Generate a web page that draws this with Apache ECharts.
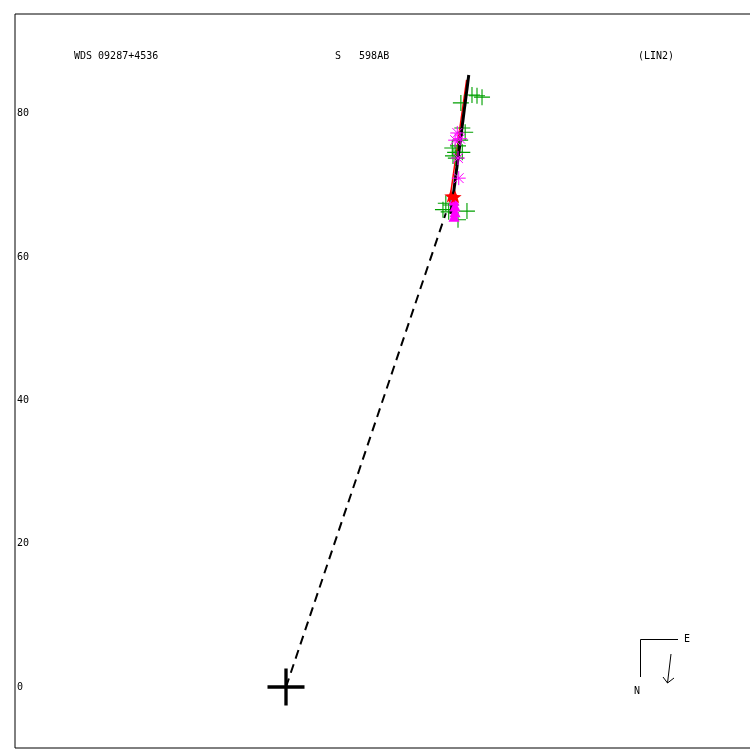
<!DOCTYPE html>
<html>
<head>
<meta charset="utf-8">
<script src="https://cdn.jsdelivr.net/npm/echarts@6/dist/echarts.min.js"></script>
<style>html,body{margin:0;padding:0;background:#fff}#c{width:750px;height:750px}</style>
</head>
<body>
<div id="c"></div>
<script>
// ---- data (plot units, origin = primary) ----
const yTickLabels = [0, 20, 40, 60, 80];
const primary = [[0, 0]];
const dashedLine = [[0, 0], [22.3, 66.1]];
const fitLineBlack = [[23.0, 66.0], [25.5, 85.4]];
const fitLineRed = [[22.8, 67.6], [25.2, 84.7]];
const greenPlus = [
  [25.95, 82.6], [26.65, 82.5], [27.35, 82.3], [24.4, 81.5],
  [24.6, 78.0], [25.0, 77.4], [24.3, 76.3], [23.2, 75.2], [24.0, 75.5],
  [23.6, 74.6], [24.6, 74.6], [23.7, 73.8], [23.3, 74.1],
  [22.3, 67.5], [21.9, 66.6], [23.0, 67.25], [25.25, 66.4], [24.0, 65.2], [22.7, 66.3]
];
const pinkAsterisk = [[23.9, 77.3], [24.3, 76.5], [23.6, 76.3], [24.0, 73.8], [24.1, 71.0]];
const pinkTriangle = [[23.44, 67.95], [23.58, 67.1], [23.58, 66.3], [23.44, 65.7]];
const redStar = [[23.0, 68.5], [23.6, 68.4]];
const titleLeft = 'WDS 09287+4536';
const titleMid = 'S   598AB';
const titleRight = '(LIN2)';

// ---- layout ----
const gridL = 15, gridT = 14, gridW = 740, gridH = 734;
const pxPerUnit = 7.167;
const originPx = [286, 687];
const xMin = (gridL - originPx[0]) / pxPerUnit;
const xMax = (gridL + gridW - originPx[0]) / pxPerUnit;
const yMax = (originPx[1] - gridT) / pxPerUnit;
const yMin = (originPx[1] - (gridT + gridH)) / pxPerUnit;

const plusPath = 'path://M-0.07,-1 L0.07,-1 L0.07,-0.07 L1,-0.07 L1,0.07 L0.07,0.07 L0.07,1 L-0.07,1 L-0.07,0.07 L-1,0.07 L-1,-0.07 L-0.07,-0.07 Z';
const bigPlusPath = 'path://M-0.09,-1 L0.09,-1 L0.09,-0.09 L1,-0.09 L1,0.09 L0.09,0.09 L0.09,1 L-0.09,1 L-0.09,0.09 L-1,0.09 L-1,-0.09 L-0.09,-0.09 Z';
const asteriskPath = 'path://M0,-1 L0,1 M-1,0 L1,0 M-0.7,-0.7 L0.7,0.7 M-0.7,0.7 L0.7,-0.7';
const starPath = 'path://M0,-1 L0.24,-0.33 L0.95,-0.31 L0.38,0.12 L0.59,0.81 L0,0.4 L-0.59,0.81 L-0.38,0.12 L-0.95,-0.31 L-0.24,-0.33 Z';
const font = '"DejaVu Sans Mono", "Liberation Mono", monospace';

const chart = echarts.init(document.getElementById('c'), null, {renderer: 'canvas'});
chart.setOption({
  animation: false,
  backgroundColor: '#fff',
  title: [
    {text: titleLeft, left: 74, top: 51, padding: 0, textStyle: {fontFamily: font, fontSize: 10, fontWeight: 'normal', color: '#000'}},
    {text: titleMid, left: 335, top: 51, padding: 0, textStyle: {fontFamily: font, fontSize: 10, fontWeight: 'normal', color: '#000'}},
    {text: titleRight, left: 638, top: 51, padding: 0, textStyle: {fontFamily: font, fontSize: 10, fontWeight: 'normal', color: '#000'}}
  ],
  grid: {left: gridL, top: gridT, width: gridW, height: gridH, outerBoundsMode: 'none', containLabel: false,
    show: true, borderColor: '#000', borderWidth: 1, backgroundColor: 'transparent'},
  xAxis: {type: 'value', min: xMin, max: xMax, axisLine: {show: false}, axisTick: {show: false}, axisLabel: {show: false}, splitLine: {show: false}},
  yAxis: {type: 'value', min: yMin, max: yMax,
    axisLine: {show: false}, axisTick: {show: false}, splitLine: {show: false},
    axisLabel: {inside: true, margin: 2, customValues: yTickLabels, fontFamily: font, fontSize: 10, color: '#000', padding: [6, 0, 0, 0]}
  },
  series: [
    {type: 'line', data: dashedLine, showSymbol: false, lineStyle: {color: '#000', width: 2, type: [9, 6]}, z: 2},
    {type: 'line', data: fitLineRed, showSymbol: false, lineStyle: {color: '#ff0000', width: 1.5}, z: 3},
    {type: 'scatter', data: greenPlus, symbol: plusPath, symbolSize: 16, itemStyle: {color: '#00a000', opacity: 1}, z: 5},
    {type: 'line', data: fitLineBlack, showSymbol: false, lineStyle: {color: '#000', width: 3}, z: 6},
    {type: 'scatter', data: pinkTriangle, symbol: 'triangle', symbolSize: [11, 11], itemStyle: {color: '#ff00ff', opacity: 1}, z: 6},
    {type: 'scatter', data: pinkAsterisk, symbol: asteriskPath, symbolSize: 14, itemStyle: {color: 'none', borderColor: '#ff00ff', borderWidth: 1, opacity: 1}, z: 6},
    {type: 'scatter', data: redStar, symbol: starPath, symbolSize: 13, itemStyle: {color: '#ff0000', opacity: 1}, z: 7},
    {type: 'scatter', data: primary, symbol: bigPlusPath, symbolSize: 37, itemStyle: {color: '#000', opacity: 1}, z: 8}
  ],
  graphic: [
    {type: 'polyline', shape: {points: [[678, 639.5], [640.5, 639.5], [640.5, 677]]}, style: {stroke: '#000', lineWidth: 1, fill: null}},
    {type: 'text', x: 684, y: 634, style: {text: 'E', font: '10px ' + font, fill: '#000'}},
    {type: 'text', x: 634, y: 686, style: {text: 'N', font: '10px ' + font, fill: '#000'}},
    {type: 'polyline', shape: {points: [[671, 654], [667.5, 683]]}, style: {stroke: '#000', lineWidth: 1, fill: null}},
    {type: 'polyline', shape: {points: [[663, 677], [667.5, 683], [674, 678]]}, style: {stroke: '#000', lineWidth: 1, fill: null}}
  ]
});
</script>
</body>
</html>
